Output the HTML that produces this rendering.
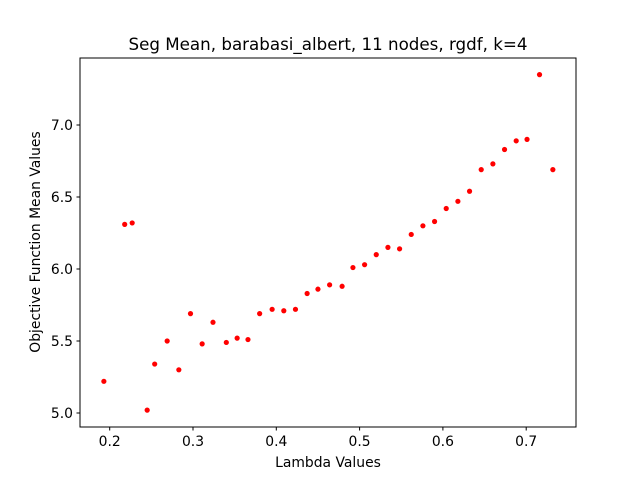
<!DOCTYPE html>
<html><head><meta charset="utf-8"><style>
body{margin:0;background:#fff;}
svg{display:block;font-family:"DejaVu Sans","Liberation Sans",sans-serif;}
</style></head><body>
<svg id="chart" width="640" height="480" viewBox="0 0 640 480">
<rect width="640" height="480" fill="#fff"/>
<text x="328" y="50" font-size="16.7" text-anchor="middle">Seg Mean, barabasi_albert, 11 nodes, rgdf, k=4</text>
<g id="ticks"></g>
<g id="points"></g>
<rect x="80" y="58" width="496" height="369" fill="none" stroke="#000" stroke-width="1"/>
<text x="328" y="467" font-size="13.9" text-anchor="middle">Lambda Values</text>
<text transform="translate(40,242) rotate(-90)" font-size="13.9" text-anchor="middle">Objective Function Mean Values</text>
</svg>
<script>
const lambdas=[0.193,0.218,0.227,0.245,0.254,0.269,0.283,0.297,0.311,0.324,0.340,0.353,0.366,0.380,0.395,0.409,0.423,0.437,0.450,0.464,0.479,0.492,0.506,0.520,0.534,0.548,0.562,0.576,0.590,0.604,0.618,0.632,0.646,0.660,0.674,0.688,0.701,0.716,0.732];
const means=[5.22,6.31,6.32,5.02,5.34,5.50,5.30,5.69,5.48,5.63,5.49,5.52,5.51,5.69,5.72,5.71,5.72,5.83,5.86,5.89,5.88,6.01,6.03,6.10,6.15,6.14,6.24,6.30,6.33,6.42,6.47,6.54,6.69,6.73,6.83,6.89,6.90,7.35,6.69];
const xTicks=[0.2,0.3,0.4,0.5,0.6,0.7];
const yTicks=[5.0,5.5,6.0,6.5,7.0];
const NS="http://www.w3.org/2000/svg";
function xs(v){return 109.7+(v-0.2)*833;}
function ys(v){return 413-(v-5.0)*144;}
const tg=document.getElementById('ticks');
xTicks.forEach(t=>{
  const l=document.createElementNS(NS,'line');
  
  
  l.setAttribute('x1',xs(t));l.setAttribute('x2',xs(t));l.setAttribute('y1',427);l.setAttribute('y2',430.5);l.setAttribute('stroke','#000');
  tg.appendChild(l);
  const tx=document.createElementNS(NS,'text');
  
  
  tx.setAttribute('x',xs(t));tx.setAttribute('y',446);tx.setAttribute('font-size','13.9');tx.setAttribute('text-anchor','middle');
  tx.textContent=t.toFixed(1);tg.appendChild(tx);
});
yTicks.forEach(t=>{
  const l=document.createElementNS(NS,'line');
  
  
  l.setAttribute('x1',76.5);l.setAttribute('x2',80);l.setAttribute('y1',ys(t));l.setAttribute('y2',ys(t));l.setAttribute('stroke','#000');
  tg.appendChild(l);
  const tx=document.createElementNS(NS,'text');
  
  
  tx.setAttribute('x',73);tx.setAttribute('y',ys(t)+5);tx.setAttribute('font-size','13.9');tx.setAttribute('text-anchor','end');
  tx.textContent=t.toFixed(1);tg.appendChild(tx);
});
const pg=document.getElementById('points');
lambdas.forEach((v,i)=>{
  const c=document.createElementNS(NS,'circle');
  
  
  c.setAttribute('cx',xs(v));c.setAttribute('cy',ys(means[i]));c.setAttribute('r',2.6);c.setAttribute('fill','#ff0000');
  pg.appendChild(c);
});
</script>
</body></html>
